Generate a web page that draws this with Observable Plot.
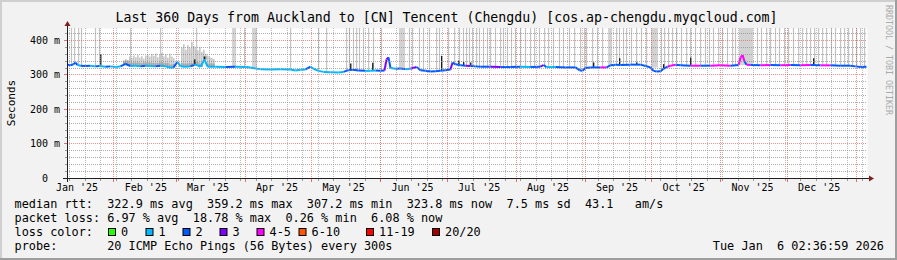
<!DOCTYPE html>
<html><head><meta charset="utf-8">
<script src="https://cdn.jsdelivr.net/npm/d3@7"></script>
<script src="https://cdn.jsdelivr.net/npm/@observablehq/plot@0.6"></script>
<style>
html,body{margin:0;padding:0;background:#f2f2f2;}
#wrap{position:relative;width:897px;height:260px;background:#f2f2f2;overflow:hidden;}
#wrap svg{position:absolute;left:0;top:0;}
</style></head><body><div id="wrap"></div>
<script>
// ---------- data ----------
const titleText = "Last 360 Days from Auckland to [CN] Tencent (Chengdu) [cos.ap-chengdu.myqcloud.com]";
const monthLabels = ["Jan '25","Feb '25","Mar '25","Apr '25","May '25","Jun '25","Jul '25","Aug '25","Sep '25","Oct '25","Nov '25","Dec '25"];
const yTicks = [0, 100, 200, 300, 400];
const yTickLabels = ["0", "100 m", "200 m", "300 m", "400 m"];
const lossLabels = ["0","1","2","3","4-5","6-10","11-19","20/20"];
const lossColors = ["#26ff00","#00b8ff","#0059ff","#7e00ff","#ff00ff","#ff5500","#ff0000","#a10000"];
const legendRtt = "median rtt:  322.9 ms avg  359.2 ms max  307.2 ms min  323.8 ms now  7.5 ms sd  43.1   am/s";
const legendLoss = "packet loss: 6.97 % avg  18.78 % max  0.26 % min  6.08 % now";
const legendColorLabel = "loss color:";
const legendProbe = "probe:       20 ICMP Echo Pings (56 Bytes) every 300s";
const stampText = "Tue Jan  6 02:36:59 2026";
const watermark = "RRDTOOL / TOBI OETIKER";

// median rtt (ms) at day offsets from the window start, with lost pings (of 20)
const medDay = [0,1.35,2.7,3.6,4.5,5.85,8.1,10.35,12.6,14.4,17.1,19.35,21.6,23.85,26.1,28.35,30.6,32.85,35.1,37.35,39.6,41.85,44.1,46.35,47.7,49.5,50.85,53.1,55.35,57.15,58.5,59.85,61.65,63,66.6,71.1,75.6,80.1,82.35,84.6,86.85,91.35,95.85,100.35,102.6,104.85,107.1,109.35,110.7,112.95,115.2,118.35,121.95,124.2,126.45,128.25,130.95,134.1,136.35,138.6,140.85,142.65,143.55,144.45,145.35,147.6,149.85,152.1,154.35,157.05,158.85,161.1,163.35,165.6,167.85,170.1,172.35,173.25,174.6,176.85,179.1,181.35,183.6,185.85,190.35,194.85,199.35,203.85,208.35,212.85,214.2,215.55,219.6,224.1,228.6,230.4,231.75,233.1,235.35,239.85,242.55,244.35,246.6,248.85,253.35,257.85,260.1,262.35,263.7,265.05,266.85,268.2,270,271.35,273.6,275.85,280.35,284.85,289.35,293.85,298.35,301.95,302.85,303.75,304.65,305.55,307.35,311.85,316.35,320.85,325.35,329.85,334.35,338.85,343.35,347.85,352.35,354.6,356.85,359.55];
const medMs = [330,328,331,336,329,327,326,327,325,326,324,325,323,325,332,326,327,325,327,326,325,327,325,321,322,338,325,324,325,330,328,324,345,324,324,323,324,323,322,319,317,316,317,316,313,315,316,324,318,312,309,308,307,309,314,315,313,312,312,313,312,313,345,351,320,318,319,317,318,323,314,312,310,311,312,314,316,336,331,328,327,326,325,324,324,323,323,324,323,324,329,323,323,322,322,314,312,320,322,322,322,328,330,329,330,330,326,322,312,310,311,318,324,327,330,328,327,327,327,328,327,329,350,358,340,330,329,328,329,328,329,328,329,328,328,327,327,325,323,324];
const medLoss = [2,2,2,2,2,1,2,2,1,2,1,2,1,1,2,2,1,1,2,1,1,2,1,1,1,2,1,1,1,2,1,1,1,1,1,1,2,1,1,1,1,1,1,1,1,1,1,2,1,1,1,1,1,1,2,2,2,2,1,1,2,2,3,3,2,1,2,2,1,3,2,2,2,2,2,2,2,3,2,2,2,3,2,2,2,3,2,2,1,2,3,2,1,2,2,2,2,2,2,2,4,2,2,2,2,2,2,2,2,2,2,2,2,4,4,2,2,4,2,4,4,2,4,4,4,2,4,2,4,2,4,2,4,2,4,2,2,2,2,2];

// smoke reaching above the top of the graph (day offsets)
const tallSmokeDay = [1.8,3.2,5.0,6.3,12.6,14.4,28.4,41.9,58.1,79.7,100.4,113.0,116.6,125.6,126.9,128.7,130.1,131.4,133.2,135.5,137.7,141.3,153.9,155.3,158.4,160.2,162.9,166.1,167.4,171.5,174.2,176.4,178.2,179.6,180.9,182.3,184.1,185.4,187.2,189.0,190.4,192.6,194.9,196.2,198.0,199.8,201.6,203.9,206.1,208.4,210.2,212.4,214.7,216.5,218.7,221.4,223.2,225.9,228.2,230.9,232.7,233.6,236.3,238.5,240.8,247.1,248.4,250.2,251.6,253.8,256.1,258.3,260.6,267.3,268.7,270.5,272.3,274.1,276.3,278.6,280.4,282.6,284.9,287.1,288.9,290.7,293.0,294.8,297.0,299.3,300.6,310.5,312.3,314.6,316.4,318.6,320.4,322.7,324.5,326.7,329.0,330.8,332.6,334.4,336.2,338.0,339.8,341.6,343.8,345.6,347.9,349.7,351.5,353.3,355.1,356.9,358.7];
const smokeBandStart = [74.3, 83.3, 149.4, 243.5, 262.8, 302.4];
const smokeBandEnd   = [76.1, 85.5, 152.1, 245.3, 265.9, 308.7];
// moderate smoke (Feb-Mar), top in ms
const midSmokeDay = [25.2,26.1,27.0,27.9,28.8,29.7,30.6,31.5,32.4,33.3,34.2,35.1,36.0,36.9,37.8,38.7,39.6,40.5,41.4,42.3,43.2,44.1,45.0,45.9,46.8,47.7,51.3,52.2,53.1,54.0,54.9,55.8,56.7,57.6,58.5,59.4,60.3,61.2,62.1,63.0,63.9,64.8,65.7];
const midSmokeTop = [340,345,342,352,348,355,350,356,349,353,346,355,358,352,360,354,361,350,357,362,352,358,349,360,352,347,378,388,372,385,378,395,383,376,370,380,365,372,360,355,350,348,345];
// dense smoke spikes (dark)
const darkSmokeDay = [14.9,26.1,57.2,61.6,127.4,137.3,168.3,176.0,178.2,181.4,236.7,248.4,256.1,268.2,280.4,335.7];
const darkSmokeTop = [359,333,344,352,332,334,354,340,336,335,335,347,335,330,349,347];

// ---------- chart ----------
const start = new Date(Date.UTC(2025, 0, 11, 2, 36, 59));
const end = new Date(Date.UTC(2026, 0, 6, 2, 36, 59));
const DAY = 864e5;
const at = d => new Date(+start + d * DAY);
const yMax = 434.78;
const bis = d3.bisector(d => d).center;
const medAt = d => medMs[bis(medDay, d)];

const segs = d3.range(medDay.length - 1).map(i => ({
  x1: at(medDay[i]), y1: medMs[i], x2: at(medDay[i + 1]), y2: medMs[i + 1], c: lossColors[medLoss[i + 1]]
}));
const tall = tallSmokeDay.map(d => ({x: at(d), y1: medAt(d) - 2, y2: yMax}));
const bands = smokeBandStart.map((s, i) => ({x1: at(s), x2: at(smokeBandEnd[i]), y1: medAt(s) - 2, y2: yMax}));
const mid = midSmokeDay.map((d, i) => ({x1: at(d), x2: at(d + 0.75), y1: medAt(d) - 2, y2: midSmokeTop[i], y3: Math.min(midSmokeTop[i], medAt(d) + 8)}));
const dark = darkSmokeDay.map((d, i) => ({x1: at(d), x2: at(d + 0.6), y1: medAt(d), y2: darkSmokeTop[i]}));
const weeks = d3.utcSunday.range(start, end);
const months = d3.utcMonth.range(start, end);
const minorY = d3.range(20, yMax, 20).filter(v => v % 100 !== 0);
const majorY = [100, 200, 300, 400];

const plot = Plot.plot({
  width: 897, height: 200,
  marginLeft: 67, marginRight: 30, marginTop: 28, marginBottom: 22,
  x: {type: "utc", domain: [start, end], axis: null},
  y: {domain: [0, yMax], axis: null},
  style: {background: "transparent", overflow: "visible"},
  marks: [
    Plot.frame({fill: "#ffffff", stroke: null}),
    Plot.rect(bands, {x1: "x1", x2: "x2", y1: "y1", y2: "y2", fill: "#d2d2d2"}),
    Plot.ruleX(tall, {x: "x", y1: "y1", y2: "y2", stroke: "#c4c4c4", strokeWidth: 1.2}),
    Plot.rect(mid, {x1: "x1", x2: "x2", y1: "y1", y2: "y2", fill: "#c8c8c8"}),
    Plot.rect(mid, {x1: "x1", x2: "x2", y1: "y1", y2: "y3", fill: "#a4a4a4"}),
    Plot.rect(dark, {x1: "x1", x2: "x2", y1: "y1", y2: "y2", fill: "#1a1a1a", ariaLabel: "dark-smoke"}),
    Plot.link(segs, {x1: "x1", y1: "y1", x2: "x2", y2: "y2", stroke: d => d.c, strokeWidth: 2})
  ]
});
const wrap = document.getElementById("wrap");
wrap.appendChild(plot);
const X = v => plot.scale("x").apply(v);
const Y = v => plot.scale("y").apply(v);
const pre = s => s.replace(/ /g, "\u00a0");
const x0 = Math.round(X(start)), x1 = Math.round(X(end)), y0 = Math.round(Y(0)), yTop = Math.round(Y(yMax));

// crisp dotted grid, placed between the smoke and the median line
const grid = d3.select(plot).insert("g", '[aria-label="dark-smoke"]').attr("stroke-dasharray", "1 1");
const hline = (v, c) => grid.append("line").attr("x1", x0).attr("x2", x1).attr("y1", Math.round(Y(v)) + 0.5).attr("y2", Math.round(Y(v)) + 0.5).attr("stroke", c);
const vline = (t, c) => grid.append("line").attr("x1", Math.round(X(t)) + 0.5).attr("x2", Math.round(X(t)) + 0.5).attr("y1", yTop).attr("y2", y0).attr("stroke", c);
minorY.forEach(v => hline(v, "rgba(143,143,143,0.75)"));
weeks.forEach(t => vline(t, "rgba(143,143,143,0.6)"));
majorY.forEach(v => hline(v, "rgba(222,79,79,0.6)"));
months.forEach(t => vline(t, "rgba(222,79,79,0.6)"));

// ---------- decorations & text ----------
const svg = d3.select(wrap).append("svg").attr("width", 897).attr("height", 260)
  .style("pointer-events", "none")
  .style("font-family", "'DejaVu Sans Mono', monospace");
svg.append("rect").attr("x", 0).attr("y", 0).attr("width", 897).attr("height", 2).attr("fill", "#cfcfcf");
svg.append("rect").attr("x", 0).attr("y", 0).attr("width", 2).attr("height", 260).attr("fill", "#cfcfcf");
svg.append("rect").attr("x", 0).attr("y", 258).attr("width", 897).attr("height", 2).attr("fill", "#9e9e9e");
svg.append("rect").attr("x", 895).attr("y", 0).attr("width", 2).attr("height", 260).attr("fill", "#9e9e9e");

for (const v of minorY) svg.append("line").attr("x1", x0 - 2).attr("x2", x0).attr("y1", Math.round(Y(v)) + 0.5).attr("y2", Math.round(Y(v)) + 0.5).attr("stroke", "rgba(143,143,143,0.9)");
for (const v of majorY) svg.append("line").attr("x1", x0 - 3).attr("x2", x0).attr("y1", Math.round(Y(v)) + 0.5).attr("y2", Math.round(Y(v)) + 0.5).attr("stroke", "rgba(222,79,79,0.8)");
for (const w of weeks) svg.append("line").attr("x1", Math.round(X(w)) + 0.5).attr("x2", Math.round(X(w)) + 0.5).attr("y1", y0).attr("y2", y0 + 3).attr("stroke", "rgba(143,143,143,0.9)");
for (const m of months) svg.append("line").attr("x1", Math.round(X(m)) + 0.5).attr("x2", Math.round(X(m)) + 0.5).attr("y1", y0).attr("y2", y0 + 4).attr("stroke", "rgba(222,79,79,0.8)");
svg.append("line").attr("x1", x0 - 4).attr("x2", x1 + 3).attr("y1", y0 + 0.5).attr("y2", y0 + 0.5).attr("stroke", "#1f1f1f");
svg.append("line").attr("x1", x0 + 0.5).attr("x2", x0 + 0.5).attr("y1", y0 + 4).attr("y2", yTop - 4).attr("stroke", "#1f1f1f");
svg.append("path").attr("d", `M${x1 + 2},${y0 - 2.5}L${x1 + 7},${y0 + 0.5}L${x1 + 2},${y0 + 3.5}Z`).attr("fill", "#801f1f");
svg.append("path").attr("d", `M${x0 - 2.5},${yTop - 2}L${x0 + 0.5},${yTop - 7}L${x0 + 3.5},${yTop - 2}Z`).attr("fill", "#801f1f");

yTicks.forEach((v, i) => {
  svg.append("text").attr("x", 60).attr("y", Math.round(Y(v)) + 4).attr("text-anchor", "end")
    .attr("font-size", 10).attr("fill", "#000").text(pre(v === 0 ? yTickLabels[i] + "  " : yTickLabels[i]));
});
const labelMonths = d3.utcMonth.range(new Date(Date.UTC(2025, 0, 1)), new Date(Date.UTC(2026, 0, 1)));
labelMonths.forEach((m, i) => {
  svg.append("text").attr("x", X(new Date(+m + 14.6 * DAY))).attr("y", 191).attr("text-anchor", "middle")
    .attr("font-size", 10).attr("fill", "#000").text(pre(monthLabels[i]));
});
svg.append("text").attr("x", 446.5).attr("y", 22).attr("text-anchor", "middle").attr("font-size", 13.25).attr("fill", "#000").text(pre(titleText));
svg.append("text").attr("transform", "translate(15,103) rotate(-90)").attr("text-anchor", "middle").attr("font-size", 11).attr("fill", "#000").text("Seconds");
svg.append("text").attr("transform", "translate(886,5) rotate(90)").attr("text-anchor", "start").attr("font-size", 8.3).attr("fill", "#aaaaaa").text(pre(watermark));
const LF = 11.85;
svg.append("text").attr("x", 14.5).attr("y", 208).attr("font-size", LF).text(pre(legendRtt));
svg.append("text").attr("x", 14.5).attr("y", 222).attr("font-size", LF).text(pre(legendLoss));
svg.append("text").attr("x", 14.5).attr("y", 236).attr("font-size", LF).text(pre(legendColorLabel));
svg.append("text").attr("x", 14.5).attr("y", 250).attr("font-size", LF).text(pre(legendProbe));
svg.append("text").attr("x", 884).attr("y", 250).attr("text-anchor", "end").attr("font-size", LF).text(pre(stampText));
const swX = [108, 145.5, 182.5, 219.5, 256.5, 298.5, 366, 432];
lossLabels.forEach((lab, i) => {
  svg.append("rect").attr("x", swX[i] + 0.5).attr("y", 228.5).attr("width", 7).attr("height", 7)
    .attr("fill", lossColors[i]).attr("stroke", "#000").attr("stroke-width", 1);
  svg.append("text").attr("x", swX[i] + 13).attr("y", 236).attr("font-size", LF).text(lab);
});
</script></body></html>
